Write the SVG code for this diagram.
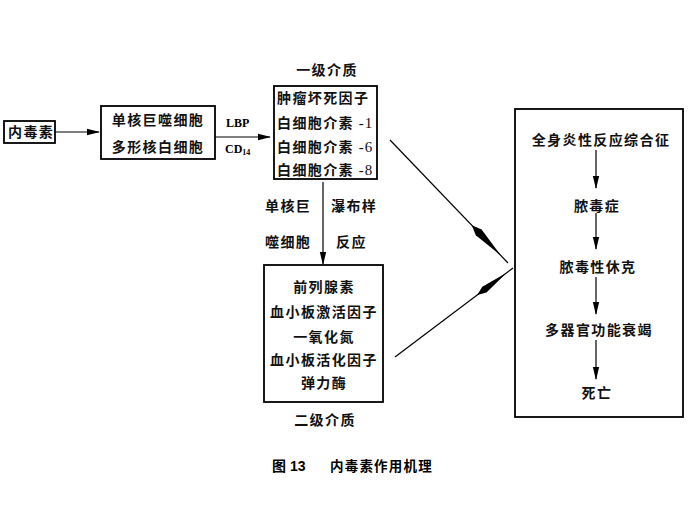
<svg xmlns="http://www.w3.org/2000/svg" width="694" height="505" viewBox="0 0 694 505">
<defs>
<style>
.box{fill:none;stroke:#000;stroke-width:1.8}
.t{font-family:"Noto Sans CJK SC","Noto Sans",sans-serif;font-size:14px;font-weight:bold;fill:#111;letter-spacing:1.4px}
.c{text-anchor:middle}
.s{font-family:"Liberation Serif",serif;font-weight:normal;letter-spacing:1px}
.ln{stroke:#000;stroke-width:1.2;fill:none}
.hd{fill:#000}
</style>
<marker id="ah" markerWidth="13" markerHeight="8" refX="12" refY="4" orient="auto" markerUnits="userSpaceOnUse">
<path d="M0,0.8 L13,4 L0,7.2 Z" fill="#000"/>
</marker>
</defs>
<rect width="694" height="505" fill="#fff"/>

<g id="n-endotoxin">
<rect class="box" x="4" y="121" width="51" height="22"/>
<text class="t" x="8" y="137">内毒素</text>
</g>

<g id="n-cells">
<rect class="box" x="101" y="106" width="114" height="53"/>
<text class="t c" x="158" y="125">单核巨噬细胞</text>
<text class="t c" x="158" y="152">多形核白细胞</text>
</g>

<g id="n-lbp">
<text x="226" y="127" font-family="Liberation Serif,serif" font-weight="bold" font-size="12">LBP</text>
<text x="225" y="153" font-family="Liberation Serif,serif" font-weight="bold" font-size="12">CD<tspan font-size="8" dy="2">14</tspan></text>
</g>

<g id="n-primary">
<text class="t c" x="327" y="75">一级介质</text>
<rect class="box" x="274" y="86" width="103" height="93"/>
<text class="t" x="277" y="103">肿瘤坏死因子</text>
<text class="t" x="277" y="128">白细胞介素<tspan class="s" font-size="15"> -1</tspan></text>
<text class="t" x="277" y="152">白细胞介素<tspan class="s" font-size="15"> -6</tspan></text>
<text class="t" x="277" y="175">白细胞介素<tspan class="s" font-size="15"> -8</tspan></text>
</g>

<g id="n-cascade-label">
<text class="t" x="265" y="211">单核巨</text>
<text class="t" x="331" y="211">瀑布样</text>
<text class="t" x="265" y="247">噬细胞</text>
<text class="t" x="336" y="247">反应</text>
</g>

<g id="n-secondary">
<rect class="box" x="264" y="265" width="119" height="137"/>
<text class="t c" x="324" y="292">前列腺素</text>
<text class="t c" x="324" y="317">血小板激活因子</text>
<text class="t c" x="324" y="342">一氧化氮</text>
<text class="t c" x="324" y="365">血小板活化因子</text>
<text class="t c" x="324" y="388">弹力酶</text>
<text class="t c" x="325" y="425">二级介质</text>
</g>

<g id="n-outcome">
<rect class="box" x="515" y="109" width="168" height="308"/>
<text class="t c" x="601" y="145">全身炎性反应综合征</text>
<text class="t c" x="597" y="211">脓毒症</text>
<text class="t c" x="598" y="272">脓毒性休克</text>
<text class="t c" x="599" y="335">多器官功能衰竭</text>
<text class="t c" x="597" y="398">死亡</text>
</g>

<g id="n-caption">
<text x="272" y="471" font-family="Liberation Sans,Noto Sans CJK SC,sans-serif" font-weight="bold" font-size="14">图 13</text>
<text x="330" y="471" font-family="Noto Sans CJK SC,sans-serif" font-weight="bold" font-size="13.5" letter-spacing="1.2">内毒素作用机理</text>
</g>

<g id="connectors">
<line class="ln" x1="55" y1="132" x2="99" y2="132" marker-end="url(#ah)"/>
<line class="ln" x1="215" y1="137" x2="270" y2="137" marker-end="url(#ah)"/>
<line class="ln" x1="323" y1="182" x2="323" y2="264" marker-end="url(#ah)"/>
<line class="ln" x1="390" y1="140" x2="508" y2="263"/>
<polygon class="hd" points="471.8,225.2 475.8,235.2 500.9,255.5 481.6,229.6"/>
<line class="ln" x1="395" y1="357" x2="513" y2="268"/>
<polygon class="hd" points="477.2,295 486.5,292.4 506.7,272.7 482.3,286.8"/>
<line class="ln" x1="596" y1="150" x2="596" y2="188" marker-end="url(#ah)"/>
<line class="ln" x1="596" y1="213" x2="596" y2="249" marker-end="url(#ah)"/>
<line class="ln" x1="596" y1="277" x2="596" y2="314" marker-end="url(#ah)"/>
<line class="ln" x1="596" y1="340" x2="596" y2="379" marker-end="url(#ah)"/>
</g>
</svg>
